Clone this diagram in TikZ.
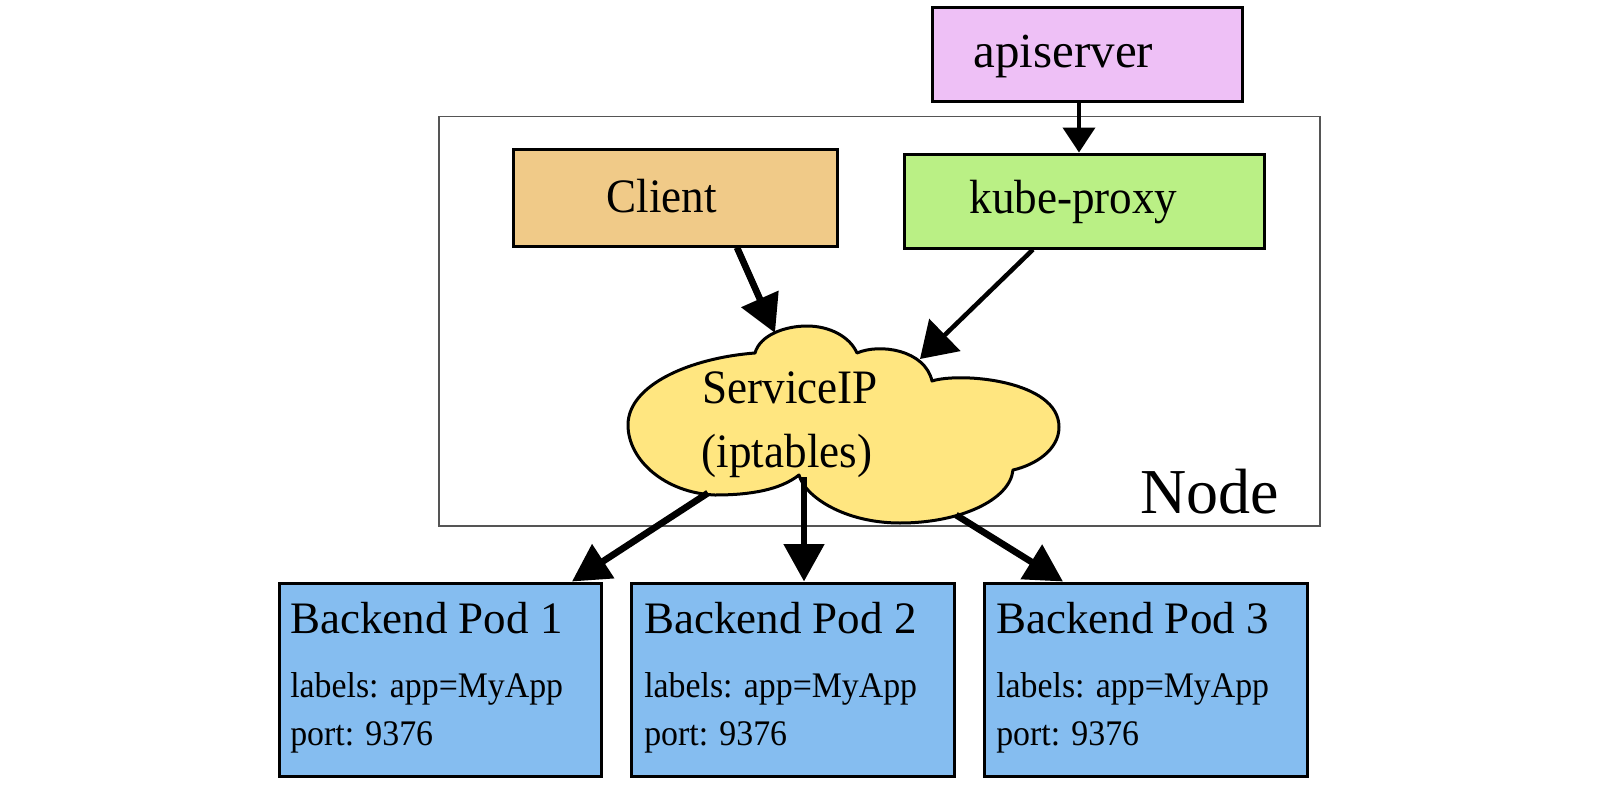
\documentclass[tikz,border=0pt]{standalone}
\usepackage{fontspec}
\setmainfont{Liberation Serif}
\newfontfamily\condfont[FakeStretch=0.94]{Liberation Serif}
\usetikzlibrary{arrows.meta,calc}
\definecolor{apicol}{HTML}{EEC0F6}
\definecolor{kubecol}{HTML}{BAF085}
\definecolor{clientcol}{HTML}{F0CA88}
\definecolor{cloudcol}{HTML}{FFE680}
\definecolor{podcol}{HTML}{85BDF0}
\definecolor{framecol}{HTML}{555555}
\begin{document}
\begin{tikzpicture}[x=0.75pt,y=-0.75pt,
  box/.style={draw=black,line width=2.25pt,rectangle,inner sep=0pt},
  podbox/.style={box,fill=podcol,minimum width=241.9pt,minimum height=144.75pt},
  lbl/.style={inner sep=0pt,anchor=base},
  lblw/.style={inner sep=0pt,anchor=base west},
  big/.style={font=\condfont\fontsize{36pt}{42pt}\selectfont},
  small/.style={font=\condfont\fontsize{27pt}{31pt}\selectfont},
  thinarr/.style={line width=3pt,-{Triangle[length=18.75pt,width=24pt]}},
  kubearr/.style={line width=3.4pt,-{Triangle[length=26pt,width=33pt]}},
  thickarr/.style={line width=5pt,-{Triangle[length=28pt,width=29.5pt]}},
  cloudshape/.style={draw=black,line width=2.25pt,fill=cloudcol,line join=round}]
\useasboundingbox (0,0) rectangle (1600,785);

% Node frame
\node[draw=framecol,line width=1.1pt,rectangle,inner sep=0pt,
  minimum width=660.75pt,minimum height=307.1pt] (noderect) at (879.5,321.25) {};
\node[lblw,font=\fontsize{48pt}{56pt}\selectfont] (nodelbl) at (1140,513) {Node};

% cloud
\draw[cloudshape] (799,475) .. controls (780,490) and (750,495) .. (715,495)
 .. controls (665,493) and (628,460) .. (628,425)
 .. controls (628,385) and (690,358) .. (755,353)
 .. controls (760,335) and (785,326) .. (807,326)
 .. controls (830,326) and (850,337) .. (857,353)
 .. controls (880,343) and (925,350) .. (932,381)
 .. controls (960,372) and (1059,380) .. (1059,427)
 .. controls (1059,450) and (1035,465) .. (1013,470)
 .. controls (1010,500) and (960,523) .. (900,523)
 .. controls (845,523) and (805,497) .. cycle;
\node[lbl,big] (svc1) at (790,403) {ServiceIP};
\node[lbl,big] (svc2) at (787,467) {(iptables)};
\coordinate (cA) at (775,333);
\coordinate (cB) at (920,359);
\coordinate (cC) at (708,493);
\coordinate (cD) at (804,477);
\coordinate (cE) at (956,515);

% boxes
\node[box,fill=apicol,minimum width=232.5pt,minimum height=70.5pt] (api) at (1087,54) {};
\node[lbl,font=\fontsize{36.75pt}{42pt}\selectfont] (apit) at (1063.5,67) {apiserver};
\node[box,fill=kubecol,minimum width=270pt,minimum height=70.5pt] (kube) at (1084,201) {};
\node[lbl,big] (kubet) at (1073.5,213) {kube-proxy};
\node[box,fill=clientcol,minimum width=243pt,minimum height=72.75pt] (client) at (675,197.5) {};
\node[lbl,big] (clientt) at (661.5,212) {Client};

% pods
\foreach \i/\cx/\tx in {1/440.5/290,2/793/644,3/1146/996}{
  \node[podbox] (pod\i) at (\cx,679.5) {};
  \node[lblw,font=\fontsize{33.75pt}{40pt}\selectfont] (pod\i t) at (\tx,633) {Backend Pod \i};
  \node[lblw,small] (pod\i l) at (\tx,697) {labels: app=MyApp};
  \node[lblw,small] (pod\i p) at (\tx,745) {port: 9376};
}

% connectors
\draw[thinarr] ([xshift=-6pt]api.south) -- ([xshift=-6pt]api.south |- kube.north);
\draw[thickarr] ([xshift=46.5pt]client.south) -- (cA);
\draw[kubearr] ([xshift=-38.25pt]kube.south) -- (cB);
\draw[thickarr] (cC) -- ([xshift=98.6pt]pod1.north);
\draw[thickarr] (cD) -- ([xshift=8.25pt]pod2.north);
\draw[thickarr] (cE) -- ([xshift=-62.25pt]pod3.north);
\end{tikzpicture}
\end{document}
